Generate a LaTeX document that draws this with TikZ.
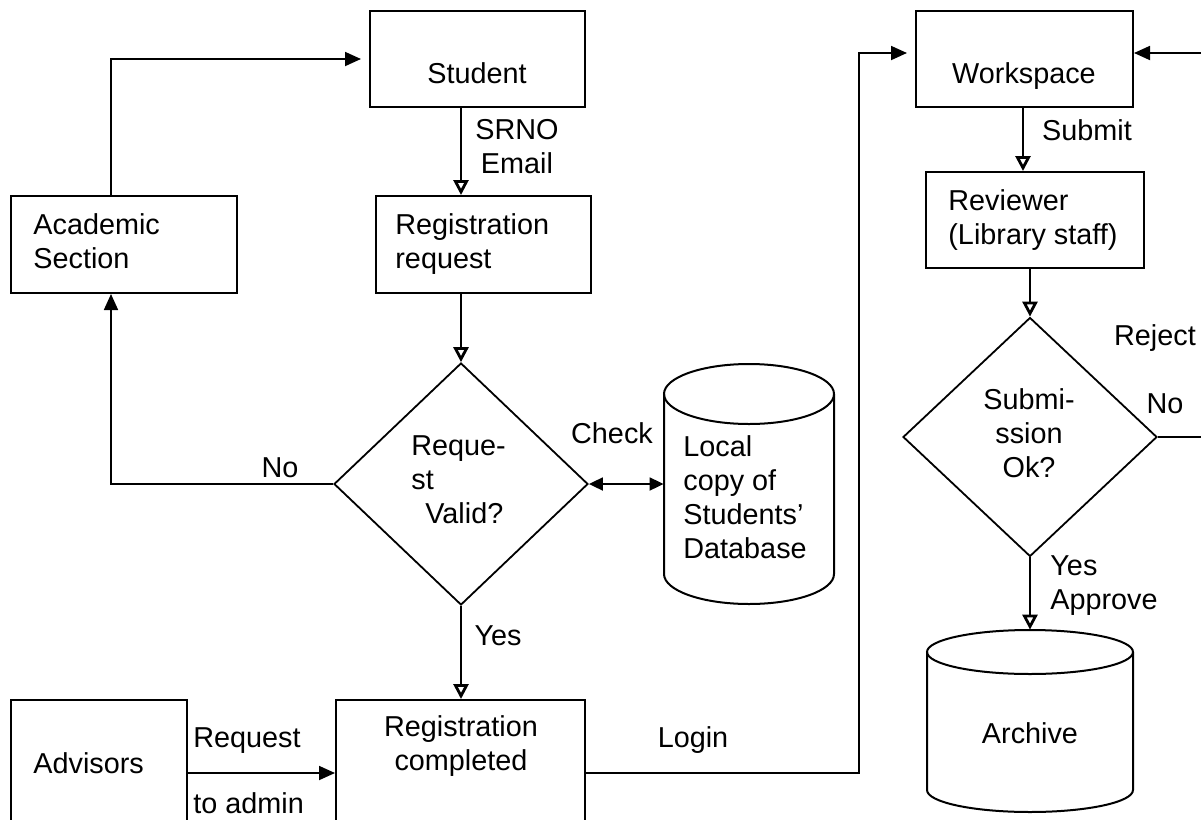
\documentclass[tikz,border=0pt]{standalone}
\usepackage{fontspec}
\setmainfont{Liberation Sans}
\usetikzlibrary{arrows.meta,shapes.geometric}
\begin{document}
\begin{tikzpicture}[x=0.5pt,y=-0.5pt,
  box/.style={draw,line width=1pt,inner sep=0pt},
  dec/.style={draw,diamond,line width=0.9pt,inner sep=0pt},
  txt/.style={inner sep=0pt,font=\fontsize{14.4}{17}\selectfont},
  conn/.style={line width=0.9pt},
  fa/.style={conn,-{Triangle[length=8pt,width=7pt]}},
  oa/.style={conn,-{Triangle[open,length=7.5pt,width=7.5pt,line width=1.4pt]}},
  da/.style={conn,{Triangle[length=7pt,width=6.5pt]}-{Triangle[length=7pt,width=6.5pt]}},
]
\useasboundingbox (0,0) rectangle (1201,820);
\clip (0,0) rectangle (1201,820);

% ---- boxes ----
\node[box,minimum width=107.5pt,minimum height=48pt] (student) at (477.5,59) {};
\node[box,minimum width=113pt,minimum height=48.5pt] (academic) at (124,244.5) {};
\node[box,minimum width=107.5pt,minimum height=48.5pt] (regreq) at (483.5,244.5) {};
\node[box,minimum width=108.5pt,minimum height=48pt] (workspace) at (1024.5,59) {};
\node[box,minimum width=109pt,minimum height=48pt] (reviewer) at (1035,220) {};
\node[box,minimum width=88pt,minimum height=80pt] (advisors) at (99,780) {};
\node[box,minimum width=124.5pt,minimum height=80pt] (regcomp) at (460.5,780) {};

% ---- decisions ----
\node[dec,minimum width=127pt,minimum height=121pt] (valid) at (461,484) {};
\node[dec,minimum width=127pt,minimum height=119.5pt] (subok) at (1030,437) {};

% ---- databases ----
\node[inner sep=0pt,minimum width=85pt,minimum height=120pt] (db) at (749,484) {};
\draw[line width=1pt] (664,394) -- (664,574)
  arc[start angle=180,end angle=360,x radius=42.5pt,y radius=15pt] -- (834,394);
\draw[line width=1pt] (749,394) ellipse[x radius=42.5pt,y radius=15pt];

\node[inner sep=0pt,minimum width=103pt,minimum height=91pt] (archive) at (1030,721) {};
\draw[line width=1pt] (927,652) -- (927,790)
  arc[start angle=180,end angle=360,x radius=51.5pt,y radius=11pt] -- (1133,652);
\draw[line width=1pt] (1030,652) ellipse[x radius=51.5pt,y radius=11pt];

% ---- texts ----
\node[txt,anchor=base] (tstudent) at (477,83) {Student};
\node[txt,align=center] (tsrno) at (517,146.5) {SRNO\\Email};
\node[txt,align=left,anchor=west] (tacademic) at (33,241) {Academic\\Section};
\node[txt,align=left,anchor=west] (tregreq) at (395,244) {Registration\\request};
\node[txt,align=left,anchor=west] (tvalid) at (411,480) {Reque-\\st\\\hspace*{7pt}Valid?};
\node[txt,anchor=base] (tcheck) at (612,443) {Check};
\node[txt,anchor=base] (tno1) at (280,477) {No};
\node[txt,align=left,anchor=west] (tdb) at (683,497) {Local\\copy of\\Students’\\Database};
\node[txt,anchor=base] (tyes1) at (498,645) {Yes};
\node[txt,align=center] (tregcomp) at (461,746) {Registration\\completed};
\node[txt,anchor=base west] (tadvisors) at (33,773) {Advisors};
\node[txt,anchor=base west] (trequest) at (193,747) {Request};
\node[txt,anchor=base west] (ttoadmin) at (193,813) {to admin};
\node[txt,anchor=base] (tlogin) at (693,747) {Login};
\node[txt,anchor=base] (tworkspace) at (1024,83) {Workspace};
\node[txt,anchor=base] (tsubmit) at (1087,140) {Submit};
\node[txt,align=left,anchor=west] (treviewer) at (948,220) {Reviewer\\(Library staff)};
\node[txt,align=center] (tsubok) at (1029,433) {Submi-\\ssion\\Ok?};
\node[txt,anchor=base] (treject) at (1155,345) {Reject};
\node[txt,anchor=base] (tno2) at (1165,413) {No};
\node[txt,align=left,anchor=west] (tapprove) at (1050,586) {Yes\\Approve};
\node[txt,anchor=base] (tarchive) at (1030,743) {Archive};

% ---- connectors ----
\coordinate (loginbend) at (859,773);
\coordinate (rejectbend) at (1230,437);
\draw[fa,shorten >=4pt] (academic.north -| 111,0) |- (student.west);
\draw[oa] (student.south -| valid.north) -- (regreq.north -| valid.north);
\draw[oa] (regreq.south -| valid.north) -- (valid.north);
\draw[fa] (valid.west) -| (academic.south -| 111,0);
\draw[da] (valid.east) -- (db.west);
\draw[oa] (valid.south) -- (regcomp.north -| valid.south);
\draw[fa] (advisors.east |- loginbend) -- (regcomp.west |- loginbend);
\draw[fa,shorten >=4pt] (regcomp.east |- loginbend) -- (loginbend) |- ([yshift=3pt]workspace.west);
\draw[oa] (workspace.south -| 1023,0) -- (reviewer.north -| 1023,0);
\draw[oa] (reviewer.south -| subok.north) -- (subok.north);
\draw[oa] (subok.south) -- (archive.north -| subok.south);
\draw[fa] (subok.east) -- (rejectbend) |- ([yshift=3pt]workspace.east);
\end{tikzpicture}
\end{document}
